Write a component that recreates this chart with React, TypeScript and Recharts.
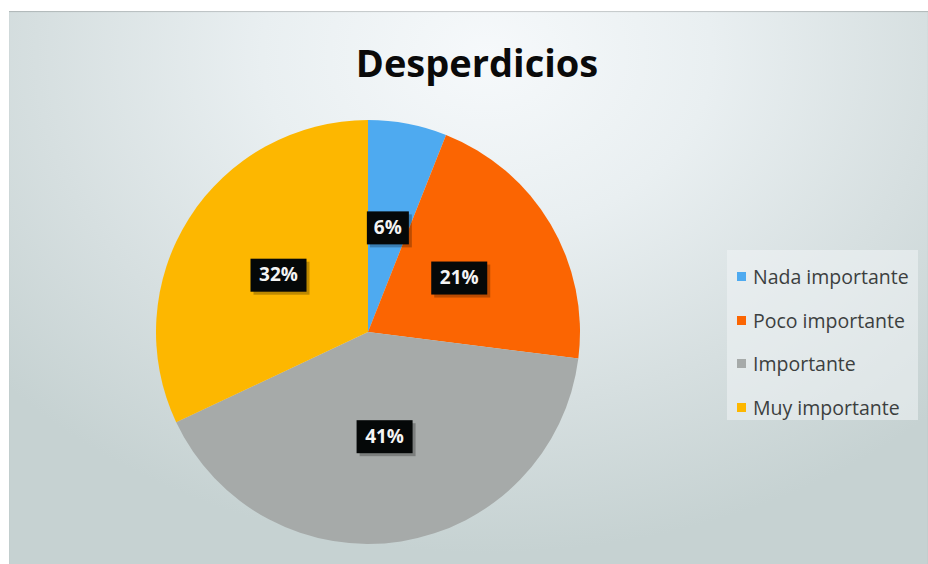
import React from "react";
import { PieChart, Pie, Cell, Legend } from "recharts";

// Ratings of how important waste ("desperdicios") is, as shares of answers
const categories = ["Nada importante", "Poco importante", "Importante", "Muy importante"];
const shares = [6, 21, 41, 32];
const colors = ["#4eaaf0", "#fb6502", "#a6aaa9", "#fdb700"];

const data = categories.map((name, i) => ({ name, value: shares[i] }));

const RADIAN = Math.PI / 180;

const BoxLabel = (props: any) => {
  const { cx, cy, midAngle, outerRadius, value } = props;
  const r = outerRadius * 0.5;
  const x = cx + r * Math.cos(-midAngle * RADIAN);
  const y = cy + r * Math.sin(-midAngle * RADIAN);
  const text = `${value}%`;
  const w = text.length * 14 + 14;
  const h = 33;
  return (
    <g>
      <rect x={x - w / 2 + 3} y={y - h / 2 + 3} width={w} height={h} fill="#000" opacity={0.25} />
      <rect x={x - w / 2} y={y - h / 2} width={w} height={h} fill="#050808" />
      <text
        x={x}
        y={y + 1}
        fill="#f4f4f4"
        fontFamily="'Open Sans', sans-serif"
        fontWeight={700}
        fontSize={19}
        textAnchor="middle"
        dominantBaseline="middle"
      >
        {text}
      </text>
    </g>
  );
};

// Legend keeps the series order of the categories list
const LegendBox = () => (
  <div
    style={{
      width: 191,
      height: 170,
      background: "rgba(240,244,245,0.55)",
      boxSizing: "border-box",
      paddingTop: 5,
    }}
  >
    {categories.map((name, i) => (
      <div
        key={name}
        style={{
          display: "flex",
          alignItems: "center",
          height: 43.5,
          fontFamily: "'Open Sans', sans-serif",
          fontSize: 19.5,
          color: "#3c3f3f",
          whiteSpace: "nowrap",
        }}
      >
        <span
          style={{
            display: "inline-block",
            width: 9,
            height: 9,
            background: colors[i],
            marginLeft: 10,
            marginRight: 7,
          }}
        />
        {name}
      </div>
    ))}
  </div>
);

export default function App() {
  return (
    <div style={{ position: "relative", width: 928, height: 564, background: "#fff" }}>
      <style>{"body{margin:0}"}</style>
      <div
        style={{
          position: "absolute",
          left: 9,
          top: 11,
          width: 919,
          height: 553,
          background:
            "radial-gradient(ellipse 70% 90% at 52% 8%, #f6f9fb 0%, #e9eff1 35%, #d6dfe0 70%, #c6d2d2 100%)",
          boxShadow: "inset 0 1px 1px rgba(0,0,0,0.18)",
        }}
      >
        <div
          style={{
            position: "absolute",
            left: 0,
            width: 936,
            top: 25,
            textAlign: "center",
            fontFamily: "'Open Sans', sans-serif",
            fontWeight: 700,
            fontSize: 38,
            color: "#0a0a0a",
          }}
        >
          Desperdicios
        </div>
        <PieChart width={919} height={553} style={{ position: "absolute", left: 0, top: 0 }}>
          <Pie
            data={data}
            dataKey="value"
            nameKey="name"
            cx={354}
            cy={316}
            outerRadius={212}
            startAngle={90}
            endAngle={-270}
            stroke="none"
            label={BoxLabel}
            labelLine={false}
            isAnimationActive={false}
          >
            {data.map((d, i) => (
              <Cell key={d.name} fill={colors[i]} />
            ))}
          </Pie>
          <Legend
            content={LegendBox}
            layout="vertical"
            align="right"
            verticalAlign="top"
            wrapperStyle={{ left: 718, top: 239, width: 191 }}
          />
        </PieChart>
      </div>
    </div>
  );
}
